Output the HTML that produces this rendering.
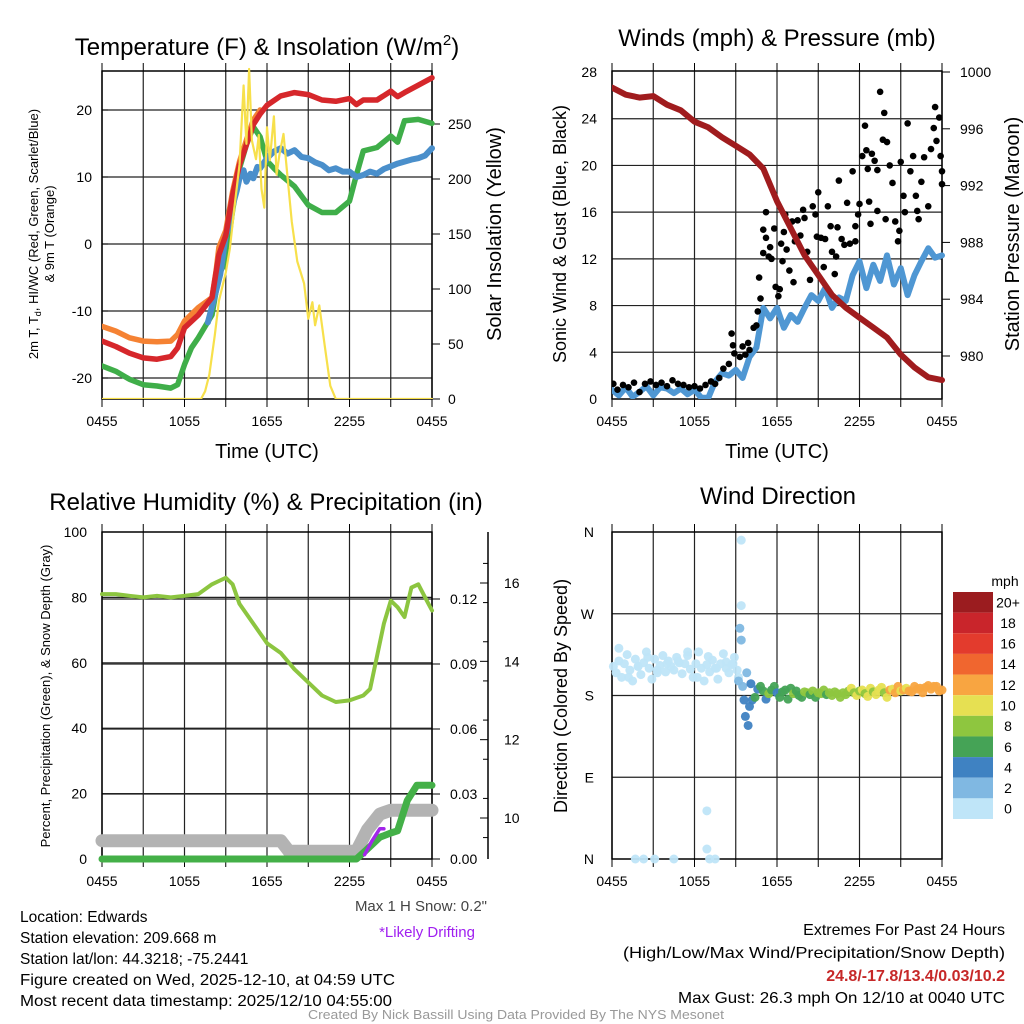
<!DOCTYPE html>
<html><head><meta charset="utf-8"><style>
html,body{margin:0;padding:0;background:#fff;}
svg{display:block;font-family:"Liberation Sans",sans-serif;}
</style></head><body>
<svg id="chart" width="1024" height="1024" viewBox="0 0 1024 1024" xmlns="http://www.w3.org/2000/svg">
<rect x="0" y="0" width="1024" height="1024" fill="#fff"/>
<g id="layer"></g>
<!-- titles -->
<text x="267" y="55" font-size="24" text-anchor="middle">Temperature (F) &amp; Insolation (W/m<tspan font-size="15" dy="-10">2</tspan><tspan dy="10">)</tspan></text>
<text x="777" y="46" font-size="24" text-anchor="middle">Winds (mph) &amp; Pressure (mb)</text>
<text x="266" y="510" font-size="24" text-anchor="middle">Relative Humidity (%) &amp; Precipitation (in)</text>
<text x="778" y="504" font-size="24" text-anchor="middle">Wind Direction</text>
<!-- axis titles -->
<text transform="translate(38,234) rotate(-90)" font-size="13" text-anchor="middle">2m T, T<tspan font-size="9" dy="3">d</tspan><tspan dy="-3">, HI/WC (Red, Green, Scarlet/Blue)</tspan></text>
<text transform="translate(54,234) rotate(-90)" font-size="13" text-anchor="middle">&amp; 9m T (Orange)</text>
<text transform="translate(501,234) rotate(-90)" font-size="20" text-anchor="middle">Solar Insolation (Yellow)</text>
<text x="267" y="458" font-size="20" text-anchor="middle">Time (UTC)</text>
<text transform="translate(566,234) rotate(-90)" font-size="18" text-anchor="middle">Sonic Wind &amp; Gust (Blue, Black)</text>
<text transform="translate(1019,234) rotate(-90)" font-size="20" text-anchor="middle">Station Pressure (Maroon)</text>
<text x="777" y="458" font-size="20" text-anchor="middle">Time (UTC)</text>
<text transform="translate(50,696) rotate(-90)" font-size="13" text-anchor="middle">Percent, Precipitation (Green), &amp; Snow Depth (Gray)</text>
<text transform="translate(567,696) rotate(-90)" font-size="18" text-anchor="middle">Direction (Colored By Speed)</text>
<text x="487" y="911" font-size="15" text-anchor="end" fill="#444">Max 1 H Snow: 0.2"</text>
<text x="427" y="937" font-size="15" text-anchor="middle" fill="#a020f0">*Likely Drifting</text>
<text x="1005" y="586" font-size="14" text-anchor="middle">mph</text>
<!-- footer -->
<g font-size="15.5">
<text x="20" y="922">Location: Edwards</text>
<text x="20" y="943">Station elevation: 209.668 m</text>
<text x="20" y="964">Station lat/lon: 44.3218; -75.2441</text>
<text x="20" y="985" textLength="375" lengthAdjust="spacingAndGlyphs">Figure created on Wed, 2025-12-10, at 04:59 UTC</text>
<text x="20" y="1006" textLength="372" lengthAdjust="spacingAndGlyphs">Most recent data timestamp: 2025/12/10 04:55:00</text>
</g>
<g font-size="16" text-anchor="end">
<text x="1005" y="935">Extremes For Past 24 Hours</text>
<text x="1005" y="958" textLength="382" lengthAdjust="spacingAndGlyphs">(High/Low/Max Wind/Precipitation/Snow Depth)</text>
<text x="1005" y="981" font-weight="bold" fill="#c62828">24.8/-17.8/13.4/0.03/10.2</text>
<text x="1005" y="1003" textLength="327" lengthAdjust="spacingAndGlyphs">Max Gust: 26.3 mph On 12/10 at 0040 UTC</text>
</g>
<text x="516" y="1019" font-size="12.5" text-anchor="middle" fill="#999" textLength="416" lengthAdjust="spacingAndGlyphs">Created By Nick Bassill Using Data Provided By The NYS Mesonet</text>
</svg>
<script>
// ---------- DATA ----------
const xTickLabels = ["0455","1055","1655","2255","0455"];
// Temperature panel (hours since 0455 UTC)
const tRedH = [0,1,2,3,4,5,5.5,6,7,8,8.5,9,9.5,10,10.5,11,11.5,12,13,14,15,16,17,18,18.5,19,20,21,21.5,22,23,24];
const tRed  = [-14.5,-15.3,-16.3,-17,-17.2,-16.8,-15.5,-12.5,-10.6,-8,-1.6,1.3,7.3,11.8,14.8,17.8,19.4,20.7,22.1,22.6,22.3,21.5,21.3,21.7,20.8,21.5,21.5,22.8,22,22.6,23.7,24.8];
const tOrgH = [0,1,2,3,4,5,5.5,6,7,8,8.3,8.5,9,9.5,10,10.5,11,11.5];
const tOrg  = [-12.3,-13,-14,-14.5,-14.6,-14.5,-13.5,-11.5,-9.5,-8,-4,-0.5,2,7.8,12.3,15.5,18.5,20];
const tGrnH = [0,1,2,3,4,5,5.5,6,6.5,7,8,8.5,9,9.5,10,10.5,11,11.5,12,12.5,13,14,15,16,17,18,18.5,19,20,21,21.5,22,23,24];
const tGrn  = [-18.2,-19,-20.2,-21,-21.2,-21.5,-21,-18,-15.5,-14,-10.6,-4.6,-2.5,5,11.3,14.8,17.5,16,12.4,11.3,10.3,8.6,5.8,4.7,4.7,6.4,10.3,13.9,14.4,16.1,15.2,18.4,18.6,18];
const tBluH = [7.7,8.3,8.6,9,9.3,9.5,9.8,10,10.3,10.5,10.8,11,11.3,11.5,12,12.5,13,13.5,14,14.5,15,15.5,16,16.5,17,17.5,18,18.5,19,19.5,20,20.5,21,21.5,22,22.5,23,23.5,24];
const tBlu  = [-11.7,-7,-4.5,1.3,3,5.7,8,9.8,11,9.3,10.5,9.8,11.5,11.3,12.8,13.8,14.3,13.5,14,13,12.8,12.2,11.8,11,11.3,10.8,10.8,10,10.3,10.8,10.5,11.2,11.6,12,12.3,12.6,12.8,13.2,14.3];
const solH = [0,7.2,7.5,7.8,8.2,8.5,9,9.3,9.6,10,10.3,10.5,10.7,10.9,11.2,11.4,11.6,11.8,12,12.2,12.5,12.7,12.9,13.2,13.5,13.8,14.2,14.7,15,15.3,15.5,15.8,16.2,16.6,17,24];
const sol  = [0,0,7,22,58,89,115,137,171,213,285,232,300,235,218,240,191,174,247,217,257,204,222,241,201,161,125,105,73,88,67,85,48,12,0,0];
const tempTicks = [20,10,0,-10,-20];
const solTicks = [0,50,100,150,200,250];
// Winds panel
const presH = [0,1,2,3,4,5,6,7,8,9,10,11,12,13,14,15,16,17,18,19,20,21,22,23,24];
const pres  = [998.9,998.4,998.2,998.3,997.7,997.3,996.5,996.1,995.4,994.8,994.2,993.2,990.9,989,987.1,985.7,984.3,983.4,982.7,982,981.3,980.1,979.2,978.5,978.3];
const windH = [0,0.5,1,1.5,2,2.5,3,3.5,4,4.5,5,5.5,6,6.5,7,7.5,8,8.5,9,9.5,10,10.5,11,11.5,12,12.5,13,13.5,14,14.5,15,15.5,16,16.5,17,17.5,18,18.5,19,19.5,20,20.5,21,21.5,22,22.5,23,23.5,24];
const wind  = [0.8,0.3,1.0,0.2,0.6,1.1,0.3,1.0,0.9,0.5,0.9,0.4,0.8,0.1,0.1,1.5,2.2,2.0,2.5,1.8,3.6,4.4,7.8,6.9,7.8,6.1,7.2,6.6,7.8,8.9,8.4,9.5,7.8,8.7,8.4,10.6,11.8,9.5,11.5,10.1,12.3,9.8,11.2,8.9,10.6,11.8,12.9,12.1,12.3];
const gustH = [0.1,0.4,0.8,1.2,1.6,2,2.4,2.8,3.2,3.6,4,4.4,4.8,5.2,5.6,6,6.4,6.8,7.2,7.5,7.8,8.1,8.5,8.7,8.8,8.9,9.3,9.5,9.7,9.9,10,10.3,10.5,10.6,10.7,10.8,11,11.2,11.4,11,11.2,11.5,11.6,11.8,11.9,12.1,12.2,12.3,12.5,12.6,12.7,12.9,13.2,13.3,13.5,13.7,13.9,14,14.2,14.4,14.6,14.8,15,15.2,15.4,15.5,15.7,15.9,16,16.2,16.4,16.5,16.7,16.9,17.1,17.3,17.5,17.7,17.9,18,18.2,18.4,18.5,18.6,18.8,18.9,19.1,19.3,19.5,19.7,19.8,20,20.2,20.4,20.6,20.8,21,21.2,21.5,21.7,21.9,22.1,22.3,22.5,22.7,23,23.2,23.4,23.5,23.6,23.8,23.9,24,24,22.2,21.3,20.9,19.9,19.3,18.7,17.7,13.1,14.9,16.3,12.4];
const gust  = [1.3,0.8,1.2,1.0,1.4,0.6,1.3,1.5,1.2,1.4,1.1,1.6,1.3,1.2,1.0,1.1,0.9,1.2,1.5,1.3,1.8,2.6,3.0,5.6,4.6,3.9,3.6,4.5,3.8,4.8,4.2,6.1,6.3,7.5,10.4,8.6,14.5,16,12.2,12.5,13.8,13,12,14.6,9.6,8.8,9.4,13.3,14.3,15.8,12.8,11,10,13.5,15.3,14,16.2,15.5,12.6,10.2,16.5,15.8,17.7,13.8,11.3,13.7,16.5,14.8,12.6,10.7,14.7,18.7,13.7,13.2,16.8,13.3,19.5,13.5,15.8,16.7,20.8,23.4,21.3,19.7,15,21,20.4,19.6,26.3,22.2,24.5,22,20,18.5,15.2,13.5,20.3,17.4,23.6,19.5,20.8,17.4,15.4,18.6,20.7,16.5,21.4,23.2,25,22.1,24.1,20.8,19.5,18.4,16.1,16,14.4,15.4,16.1,16.9,14.8,15.2,13.9,12.2,11.8];
const windTicks = [0,4,8,12,16,20,24,28];
const presTicks = [980,984,988,992,996,1000];
// Humidity panel
const rhH = [0,1,2,3,4,5,6,7,8,8.5,9,9.5,10,11,12,13,14,15,16,17,18,19,19.5,20,20.5,21,21.5,22,22.5,23,23.5,24];
const rh  = [81,81,80.5,80,80.5,80,80.5,81,84,85,86,84,78,72,66,63,58,54,50,48,48.5,50,52,62,72,79,77,74,83,84,80,76];
const precipH = [0,18.5,19.2,20.2,21,21.5,22.2,22.9,24];
const precip  = [0,0,0.004,0.01,0.012,0.013,0.027,0.034,0.034];
const snowH = [0,13,13.6,18.5,19.3,20.2,21,24];
const snow  = [9.42,9.42,9.15,9.15,9.7,10.1,10.2,10.2];
const driftH = [19.1,19.6,20.2,20.5];
const drift  = [0.002,0.008,0.014,0.014];
const rhTicks = [0,20,40,60,80,100];
const precipTicks = [0,0.03,0.06,0.09,0.12];
const snowTicks = [10,12,14,16];
// Wind direction panel
const dirH = [0.1,0.3,0.5,0.7,0.9,1.1,1.3,1.5,1.7,1.9,2.1,2.3,2.5,2.7,2.9,3.1,3.3,3.5,3.7,3.9,4.1,4.3,4.5,4.7,4.9,5.1,5.3,5.5,5.7,5.9,6.1,6.3,6.5,6.7,6.9,7.1,7.3,7.5,7.7,7.9,8.1,8.3,8.5,8.7,8.9,9.1,9.2,
 0.5,1.2,1.9,2.6,3.3,4.0,4.8,5.5,6.2,7.0,7.6,8.3,8.8,
 1.7,2.3,3.1,4.5,7.1,7.5,6.9,6.9,
 9.4,9.4,9.3,9.4,
 9.5,9.6,9.7,9.9,10,10.2,10.4,
 10.6,10.8,11,11.2,11.4,11.6,11.8,12,12.2,12.4,12.6,12.8,13,
 13.2,13.4,13.6,13.8,14,14.2,14.4,14.6,14.8,15,15.2,15.4,15.6,15.8,16,16.2,16.4,16.6,16.8,17,
 17.2,17.4,17.6,17.8,18,18.2,18.4,18.6,18.8,19,19.2,19.4,19.6,19.8,20,
 20.2,20.4,20.6,20.8,21,21.2,21.4,21.6,21.8,22,22.2,22.4,22.6,22.8,23,23.2,23.4,23.6,23.8,24,
 9.2,9.8,10.1];
const dirDeg = [212,205,218,200,215,225,208,196,220,212,203,216,228,210,198,220,205,213,224,206,218,212,208,222,216,204,215,224,209,200,215,228,210,196,214,206,219,210,198,215,226,210,205,214,222,208,200,
 232,200,212,222,208,215,218,228,200,223,210,217,215,
 0,0,0,0,0,0,53,11,
 351,279,254,241,
 190,175,157,147,168,175,178,
 187,190,185,176,182,186,190,183,178,184,186,176,188,
 182,185,180,178,184,183,181,185,178,183,182,186,181,183,180,184,182,178,183,181,
 185,188,183,180,185,186,182,179,188,184,181,186,189,183,178,
 186,187,183,190,185,186,188,185,184,190,187,188,183,189,191,187,190,190,185,186,
 196,205,193];
const dirSpd = [0.5,0.5,0.5,0.5,0.5,0.5,0.5,0.5,0.5,0.5,0.5,0.5,0.5,0.5,0.5,0.5,0.5,0.5,0.5,0.5,0.5,0.5,0.5,0.5,0.5,0.5,0.5,0.5,0.5,0.5,0.5,0.5,0.5,0.5,0.5,0.5,0.5,0.5,0.5,0.5,0.5,0.5,0.5,0.5,0.5,0.5,0.5,
 0.5,0.5,0.5,0.5,0.5,0.5,0.5,0.5,0.5,0.5,0.5,0.5,0.5,
 0.5,0.5,0.5,0.5,0.5,0.5,0.5,0.5,
 0.5,0.5,3,2.5,
 3,4.5,5,4,5,5.5,6,
 5,6.5,7,5.5,8,6,7.5,5,7,6.5,7.5,6,7,
 8,7,6.5,7.5,8,8.5,7,8,7.5,8.5,9,8,7.5,8.5,8,9,8.5,8,9,8.5,
 9,10.5,9,11,8.5,10.5,9,11,10,9.5,10.5,11,10,9.5,11,
 12.5,10.5,12,13,11,12.5,10.5,12,12.5,13,12,12.5,13,12.5,13,12,12.5,13,12.5,13,
 3,3,4.5];
const dirTicks = ["N","W","S","E","N"];
const cbLabels = ["20+","18","16","14","12","10","8","6","4","2","0"];
const cbColors = ["#9b1c1f","#c9252b","#e33b2d","#f0662f","#f8a541","#e6e052","#8ec63f","#45a356","#3f82c2","#80b8e2","#bfe5f8"];

// ---------- RENDER ----------
const NS="http://www.w3.org/2000/svg";
const layer=document.getElementById('layer');
function mk(tag,attrs,parent){const e=document.createElementNS(NS,tag);for(const k in attrs)e.setAttribute(k,attrs[k]);(parent||layer).appendChild(e);return e;}
function txt(x,y,s,size,anchor,parent){const t=mk('text',{x:x,y:y,'font-size':size,'text-anchor':anchor},parent);t.textContent=s;return t;}
function lin(a0,a1,p0,p1){return v=>p0+(v-a0)*(p1-p0)/(a1-a0);}
function pathD(hs,vs,fx,fy){return hs.map((h,i)=>(i?'L':'M')+fx(h).toFixed(1)+','+fy(vs[i]).toFixed(1)).join(' ');}

function frame(name,L,T,R,B,hLines){
  const g=mk('g',{});
  
  
  const fx=lin(0,24,L,R);
  for(let h=0;h<=24;h+=3){
    const x=fx(h);
    const gl=mk('line',{x1:x,y1:T,x2:x,y2:B,stroke:'#222','stroke-width':1.2},g);
    
    
    mk('line',{x1:x,y1:T-8,x2:x,y2:T,stroke:'#000','stroke-width':1},g);
    mk('line',{x1:x,y1:B,x2:x,y2:B+8,stroke:'#000','stroke-width':1},g);
  }
  hLines.forEach(y=>{const gl=mk('line',{x1:L,y1:y,x2:R,y2:y,stroke:'#222','stroke-width':1.2},g);
    
    });
  mk('rect',{x:L,y:T,width:R-L,height:B-T,fill:'none',stroke:'#000','stroke-width':1.5},g);
  xTickLabels.forEach((s,i)=>{const t=txt(fx(i*6),B+27,s,14,'middle',g);
    
    });
  return fx;
}
function plotLine(name,hs,vs,fx,fy,color,w){
  const p=mk('path',{d:pathD(hs,vs,fx,fy),fill:'none',stroke:color,'stroke-width':w,'stroke-linejoin':'round','stroke-linecap':'round'});
  
  
  return p;
}

// Panel 1
{
  const L=102,T=71,R=432,B=399;
  const fyT=lin(20,-20,110,378), fyS=lin(0,250,399,124);
  const fx=frame('temperature',L,T,R,B,tempTicks.map(fyT));
  tempTicks.forEach(v=>{const t=txt(L-10,fyT(v)+5,String(v),14,'end');
    
    
    mk('line',{x1:L,y1:fyT(v),x2:L+6,y2:fyT(v),stroke:'#000'});});
  solTicks.forEach(v=>{const t=txt(R+16,fyS(v)+5,String(v),14,'start');
    
    
    mk('line',{x1:R,y1:fyS(v),x2:R+8,y2:fyS(v),stroke:'#000'});});
  const cp=mk('clipPath',{id:'c1'});mk('rect',{x:L,y:T-12,width:R-L+6,height:B-T+12},cp);
  const g=mk('g',{'clip-path':'url(#c1)'});
  [['orange-9m-temp-line',tOrgH,tOrg,'#f58233',fyT,5.5],['dewpoint-line',tGrnH,tGrn,'#3fae49',fyT,5.5],['windchill-line',tBluH,tBlu,'#4a8fcb',fyT,6],['temperature-line',tRedH,tRed,'#d6272b',fyT,5.5],['insolation-line',solH,sol,'#f7e04b',fyS,2.2]].forEach(a=>{g.appendChild(plotLine(a[0],a[1],a[2],fx,a[4],a[3],a[5]));});
}
// Panel 2
{
  const L=612,T=71,R=942,B=399;
  const fyW=lin(0,28,399,72), fyP=lin(980,1000,356,72);
  const fx=frame('winds',L,T,R,B,windTicks.slice(1,7).map(fyW));
  windTicks.forEach(v=>{const t=txt(L-15,fyW(v)+5,String(v),14,'end');
    
    });
  presTicks.forEach(v=>{const t=txt(R+18,fyP(v)+5,String(v),14,'start');
    
    
    mk('line',{x1:R,y1:fyP(v),x2:R+8,y2:fyP(v),stroke:'#000'});});
  const cp=mk('clipPath',{id:'c2'});mk('rect',{x:L,y:T-5,width:R-L+5,height:B-T+5},cp);
  const g=mk('g',{'clip-path':'url(#c2)'});
  g.appendChild(plotLine('sonic-wind-line',windH,wind,fx,fyW,'#4f97d3',6));
  gustH.forEach((h,i)=>{const c=mk('circle',{cx:fx(h),cy:fyW(gust[i]),r:3.3,fill:'#000'},g);
    
    });
  g.appendChild(plotLine('pressure-line',presH,pres,fx,fyP,'#a01c1e',6));
}
// Panel 3
{
  const L=102,T=532,R=432,B=859;
  const fyR=lin(0,100,859,532), fyP=lin(0,0.03,859,794), fyS=lin(10,16,818,583);
  const fx=frame('humidity',L,T,R,B,rhTicks.slice(1,5).map(fyR).concat(precipTicks.slice(1).map(fyP)));
  rhTicks.forEach(v=>{const t=txt(L-15,fyR(v)+5,String(v),14,'end');
    
    });
  precipTicks.forEach(v=>{const t=txt(R+18,fyP(v)+5,v.toFixed(2),14,'start');
    
    
    mk('line',{x1:R,y1:fyP(v),x2:R+8,y2:fyP(v),stroke:'#000'});});
  const ax=mk('line',{x1:488,y1:532,x2:488,y2:859,stroke:'#000','stroke-width':1.5});
  
  
  snowTicks.forEach(v=>{const t=txt(504,fyS(v)+5,String(v),14,'start');
    
    
    mk('line',{x1:480,y1:fyS(v),x2:488,y2:fyS(v),stroke:'#000'});});
  for(let v=9.5;v<17;v+=1){mk('line',{x1:483,y1:fyS(v),x2:488,y2:fyS(v),stroke:'#000'});}
  const g=mk('g',{});
  g.appendChild(plotLine('snow-depth-line',snowH,snow,fx,fyS,'#b3b3b3',13));
  g.appendChild(plotLine('precipitation-line',precipH,precip,fx,fyP,'#44b048',7));
  g.appendChild(plotLine('drifting-line',driftH,drift,fx,fyP,'#a326ea',3.5));
  g.appendChild(plotLine('humidity-line',rhH,rh,fx,fyR,'#8cc540',4));
}
// Panel 4
{
  const L=612,T=532,R=942,B=859;
  const fyD=lin(0,360,859,532);
  const fx=frame('direction',L,T,R,B,[90,180,270].map(fyD));
  dirTicks.forEach((s,i)=>{const t=txt(L-18,fyD(360-i*90)+5,s,14,'end');
    
    });
  const g=mk('g',{});
  dirH.forEach((h,i)=>{const sp=dirSpd[i]===undefined?0:dirSpd[i];
    const b=Math.min(10,Math.floor(sp/2));
    const c=mk('circle',{cx:fx(h),cy:fyD(dirDeg[i]),r:4.5,fill:cbColors[10-b],'fill-opacity':0.95},g);
    
    });
  const cb=mk('g',{});
  
  
  const h=227/11;
  cbColors.forEach((col,i)=>{const r=mk('rect',{x:953,y:592+i*h,width:40,height:h,fill:col},cb);
    
    
    const t=txt(1008,592+i*h+h/2+5,cbLabels[i],14,'middle',cb);
    
    });
}
</script>
</body></html>
